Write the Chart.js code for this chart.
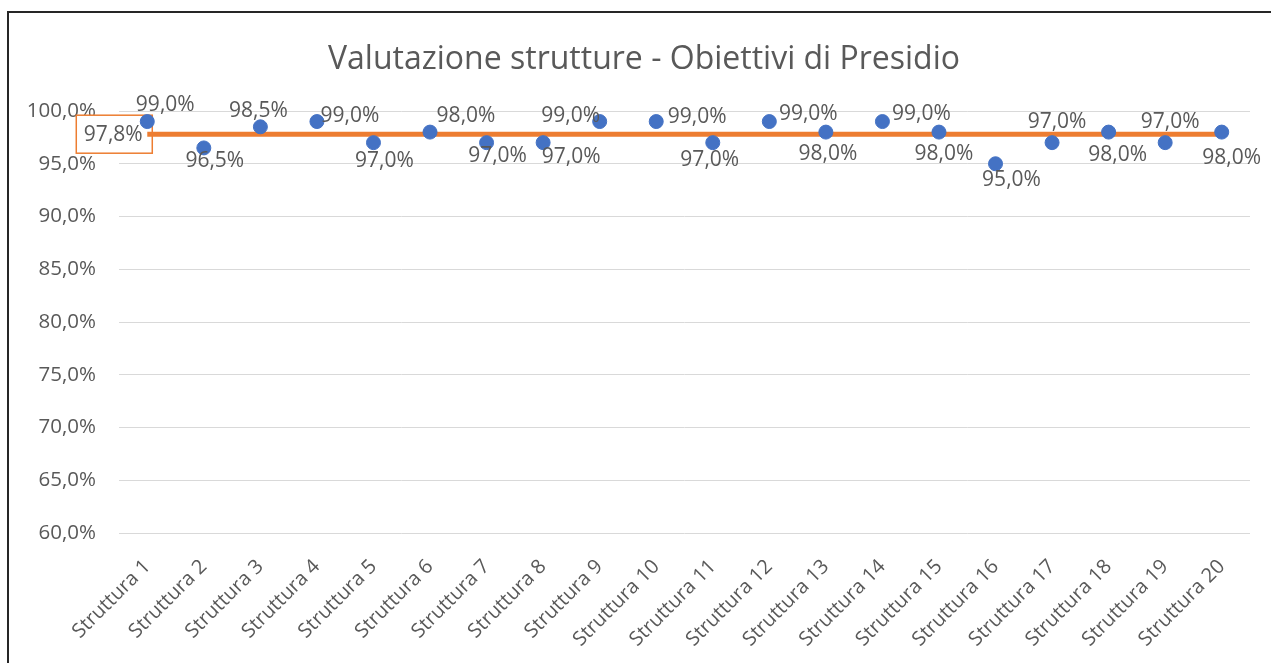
<!DOCTYPE html>
<html>
<head>
<meta charset="utf-8">
<script src="https://cdn.jsdelivr.net/npm/chart.js@4.4.0/dist/chart.umd.min.js"></script>
<style>
  html, body { margin: 0; padding: 0; background: #fff; overflow: hidden; }
  #wrap { position: relative; width: 1271px; height: 663px; }
  #frame { position: absolute; left: 7px; top: 11px; right: -5px; bottom: -5px;
           border-top: 2px solid #262626; border-left: 2px solid #262626; pointer-events: none; }
  canvas { position: absolute; left: 0; top: 0; }
</style>
</head>
<body>
<div id="wrap">
  <canvas id="chart" width="1271" height="663"></canvas>
  <div id="frame"></div>
</div>
<script>
// categories and values
const strutture = ["Struttura 1", "Struttura 2", "Struttura 3", "Struttura 4", "Struttura 5",
  "Struttura 6", "Struttura 7", "Struttura 8", "Struttura 9", "Struttura 10",
  "Struttura 11", "Struttura 12", "Struttura 13", "Struttura 14", "Struttura 15",
  "Struttura 16", "Struttura 17", "Struttura 18", "Struttura 19", "Struttura 20"];
const valutazione = [99.0, 96.5, 98.5, 99.0, 97.0, 98.0, 97.0, 97.0, 99.0, 99.0,
  97.0, 99.0, 98.0, 99.0, 98.0, 95.0, 97.0, 98.0, 97.0, 98.0];
const media = 97.8;
const mediaLinea = strutture.map(() => media);
const yTicks = [60, 65, 70, 75, 80, 85, 90, 95, 100];

// where Excel put each data label, relative to its point (dx, dy)
const labelOffsets = [[18, -17], [11, 13], [-2, -16], [33, -6], [11, 18], [36, -16], [11, 13],
  [28, 14], [-29, -6], [41, -5], [-3, 17], [39, -8], [2, 22], [39, -8], [5, 22], [16, 16],
  [5, -21], [9, 23], [5, -21], [10, 26]];

const GREY = "#595959";
const FONT = "'Open Sans', sans-serif";

function fmt(v) {
  return v.toFixed(1).replace(".", ",") + "%";
}

// boxed label for the average line goes under the marks, point labels on top
const labelsPlugin = {
  id: "labelsPlugin",
  afterLayout(chart) {
    // centre the title on the frame rather than on the canvas
    if (chart.titleBlock) chart.titleBlock.left = 38;
  },
  beforeDatasetsDraw(chart) {
    const ctx = chart.ctx;
    const first = chart.getDatasetMeta(1).data[0];
    const bw = 76, bh = 38;
    const bx = first.x + 5 - bw, by = first.y - bh / 2;
    ctx.save();
    ctx.fillStyle = "#fff";
    ctx.fillRect(bx, by, bw, bh);
    ctx.strokeStyle = "#ED7D31";
    ctx.lineWidth = 1.5;
    ctx.strokeRect(bx, by, bw, bh);
    ctx.font = "21px " + FONT;
    ctx.fillStyle = GREY;
    ctx.textAlign = "center";
    ctx.textBaseline = "middle";
    ctx.fillText(fmt(media), bx + bw / 2 - 1, first.y + 1);
    ctx.restore();
  },
  afterDatasetsDraw(chart) {
    const ctx = chart.ctx;
    ctx.save();
    ctx.font = "21px " + FONT;
    ctx.fillStyle = GREY;
    ctx.textAlign = "center";
    ctx.textBaseline = "middle";
    chart.getDatasetMeta(0).data.forEach((pt, i) => {
      const off = labelOffsets[i];
      ctx.fillText(fmt(valutazione[i]), pt.x + off[0], pt.y + off[1]);
    });
    ctx.restore();
  }
};

new Chart(document.getElementById("chart"), {
  type: "line",
  data: {
    labels: strutture,
    datasets: [
      {
        label: "Valutazione",
        data: valutazione,
        showLine: false,
        pointRadius: 7,
        pointHoverRadius: 7,
        pointBackgroundColor: "#4472C4",
        pointBorderColor: "#4472C4",
        borderColor: "#4472C4",
        order: 1,
      },
      {
        label: "Media",
        data: mediaLinea,
        borderColor: "#ED7D31",
        borderWidth: 5,
        pointRadius: 0,
        fill: false,
        order: 2,
      },
    ],
  },
  options: {
    responsive: false,
    animation: false,
    layout: { padding: { top: 0, right: 21, left: 0, bottom: 0 } },
    plugins: {
      legend: { display: false },
      tooltip: { enabled: false },
      title: {
        display: true,
        text: "Valutazione strutture - Obiettivi di Presidio",
        color: GREY,
        font: { family: FONT, size: 32, weight: "normal" },
        padding: { top: 41, bottom: 31.6 },
      },
    },
    scales: {
      x: {
        offset: true,
        grid: { display: false },
        border: { display: false },
        ticks: {
          color: GREY,
          font: { family: FONT, size: 20 },
          minRotation: 45,
          maxRotation: 45,
          padding: 14,
          autoSkip: false,
        },
        afterFit(scale) { scale.height = 130; },
      },
      y: {
        min: 60,
        max: 100,
        afterBuildTicks(scale) { scale.ticks = yTicks.map(v => ({ value: v })); },
        grid: { color: "#D9D9D9", lineWidth: 1, drawTicks: false },
        border: { display: false },
        ticks: {
          color: GREY,
          font: { family: FONT, size: 20.5 },
          padding: 23,
          callback: v => fmt(v),
        },
        afterFit(scale) { scale.width = 119; },
      },
    },
  },
  plugins: [labelsPlugin],
});
</script>
</body>
</html>
